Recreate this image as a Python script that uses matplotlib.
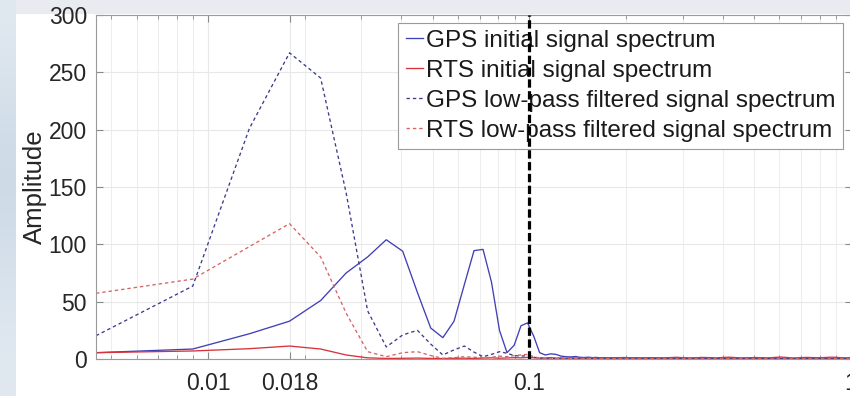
#!/usr/bin/env python3
#Amplitude spectra of the GPS and RTS series, before and after low-pass filtering
import numpy as np
import matplotlib.pyplot as plt
from matplotlib.ticker import FixedLocator, LogLocator, NullFormatter
from matplotlib.patches import Rectangle

plt.rcParams['font.family'] = ['Liberation Sans', 'DejaVu Sans']

#frequency resolution of the spectrum (1/cycle)
df = 0.004484
cutoff = 0.1

#bin numbers of the spectrum
bins = list(range(1, 41)) + [44, 48, 53, 58, 64, 70, 77, 85, 93, 102, 112,
                             123, 135, 148, 162, 178, 195, 214, 223]

gps_raw = [5.5, 8.7, 22, 33, 51, 75, 89, 104, 94, 58,
           27, 18.6, 33, 65, 94.5, 95.6, 67, 25, 5.5, 12,
           29, 31.5, 20, 5.5, 3.5, 4.5, 4.0, 2.5, 2.0, 1.8,
           2.2, 1.5, 1.3, 1.6, 1.2, 1.4, 1.0, 1.2, 0.9, 1.1,
           0.8, 1.0, 0.7, 0.9, 0.6, 0.8, 0.7, 0.5, 0.8, 0.6,
           0.7, 0.5, 0.6, 0.4, 0.6, 0.5, 0.4, 0.5, 0.4]
rts_raw = [5.5, 7.0, 9.0, 11.3, 8.7, 3.5, 1.0, 0.5, 0.6, 0.8,
           0.5, 0.4, 0.6, 0.7, 0.5, 0.8, 1.0, 0.7, 0.9, 1.2,
           1.0, 1.4, 1.1, 0.8, 0.9, 1.2, 0.8, 1.0, 0.7, 1.1,
           0.9, 0.6, 1.0, 0.8, 1.2, 0.7, 0.9, 1.1, 0.8, 1.0,
           1.3, 0.8, 1.2, 0.9, 1.5, 0.8, 1.4, 1.0, 1.6, 0.9,
           1.3, 1.0, 1.7, 0.9, 1.4, 1.1, 1.6, 1.0, 1.2]
gps_lp = [20.3, 63.6, 201, 267, 245, 145, 42, 10.5, 21, 25,
          13, 3.5, 8, 11.3, 6, 2, 4, 6.4, 5, 3,
          2.5, 3, 1.5, 0.8, 0.5, 0.4, 0.3, 0.3, 0.3, 0.3,
          0.3, 0.3, 0.3, 0.3, 0.3, 0.3, 0.3, 0.3, 0.3, 0.3,
          0.3, 0.3, 0.3, 0.3, 0.3, 0.3, 0.3, 0.3, 0.3, 0.3,
          0.3, 0.3, 0.3, 0.3, 0.3, 0.3, 0.3, 0.3, 0.3]
rts_lp = [57.3, 69.7, 98, 118, 89, 40, 6.4, 2, 5.5, 6.4,
          3, 0.6, 1.2, 2, 1.5, 1, 1.5, 2.5, 2, 3,
          3.5, 4, 2, 0.8, 0.4, 0.3, 0.3, 0.3, 0.3, 0.3,
          0.3, 0.3, 0.3, 0.3, 0.3, 0.3, 0.3, 0.3, 0.3, 0.3,
          0.3, 0.3, 0.3, 0.3, 0.3, 0.3, 0.3, 0.3, 0.3, 0.3,
          0.3, 0.3, 0.3, 0.3, 0.3, 0.3, 0.3, 0.3, 0.3]

labels = ['GPS initial signal spectrum', 'RTS initial signal spectrum',
          'GPS low-pass filtered signal spectrum', 'RTS low-pass filtered signal spectrum']
xticks = [0.01, 0.018, 0.1, 1]
xticklabels = ['0.01', '0.018', '0.1', '1']

f = np.array(bins) * df

W, H = 850, 396
fig = plt.figure(figsize=(W/100, H/100), dpi=100, facecolor='#e8ecf0')

#slide background behind the figure window
bg = fig.add_axes([0, 0, 1, 1], zorder=-10)
bg.axis('off')
grad = np.array([[0.88, 0.91, 0.94], [0.82, 0.87, 0.91], [0.80, 0.85, 0.90],
                 [0.85, 0.89, 0.93], [0.88, 0.91, 0.94]])
bg.imshow(grad[:, None, :], extent=[0, 16/W, 0, 1], aspect='auto',
          interpolation='bicubic', transform=bg.transAxes)
bg.add_patch(Rectangle((16/W, 0), 1, 1-14/H, transform=bg.transAxes,
                       facecolor='white', edgecolor='none'))
bg.set_xlim(0, 1)
bg.set_ylim(0, 1)

ax = fig.add_axes([96/W, 37/H, (851.5-96)/W, 344/H])
ax.set_facecolor('white')

ax.plot(f, gps_raw, '-', color='#4040b6', lw=0.95, label=labels[0])
ax.plot(f, rts_raw, '-', color='#d8323c', lw=0.95, label=labels[1])
ax.plot(f, gps_lp, '--', color='#3c3c8c', lw=0.95, dashes=(2.6, 2.2), label=labels[2])
ax.plot(f, rts_lp, '--', color='#d86464', lw=0.95, dashes=(2.6, 2.2), label=labels[3])
ax.axvline(cutoff, color='black', lw=2.3, dashes=(2.6, 1.1), zorder=6)

ax.set_xscale('log')
ax.set_xlim(df, 1.005)
ax.set_ylim(0, 300)
ax.set_yticks(np.arange(0, 301, 50))
ax.xaxis.set_major_locator(FixedLocator(xticks))
ax.set_xticklabels(xticklabels)
ax.xaxis.set_minor_locator(LogLocator(base=10, subs=np.arange(2, 10)))
ax.xaxis.set_minor_formatter(NullFormatter())

ax.grid(True, which='major', color='#e8e8e8', lw=0.8)
ax.grid(True, which='minor', axis='x', color='#eeeeee', lw=0.8)
ax.set_axisbelow(True)

ax.tick_params(which='both', direction='in', top=True, right=True,
               color='#8a8a8a', labelcolor='#262626', labelsize=16.5)
ax.tick_params(which='major', length=5, width=0.8)
ax.tick_params(which='minor', length=3, width=0.6)
ax.tick_params(axis='y', pad=6.5)
ax.tick_params(axis='x', pad=9)
for s in ax.spines.values():
    s.set_color('#9a9a9a')
    s.set_linewidth(0.8)

ax.set_ylabel('Amplitude', fontsize=18.5, color='#262626')
ax.yaxis.set_label_coords((47-96)/(851.5-96), 0.5)

leg = ax.legend(loc='upper right', bbox_to_anchor=(843/W, 1-22.5/H),
                bbox_transform=fig.transFigure, borderaxespad=0, fontsize=17.5,
                handlelength=0.72, handletextpad=0.12, labelspacing=0.33,
                borderpad=0.3, fancybox=False, framealpha=1, edgecolor='#9a9a9a')
leg.get_frame().set_linewidth(0.8)
for t in leg.get_texts():
    t.set_color('#1a1a1a')

plt.savefig('out.png', dpi=100, facecolor=fig.get_facecolor())
